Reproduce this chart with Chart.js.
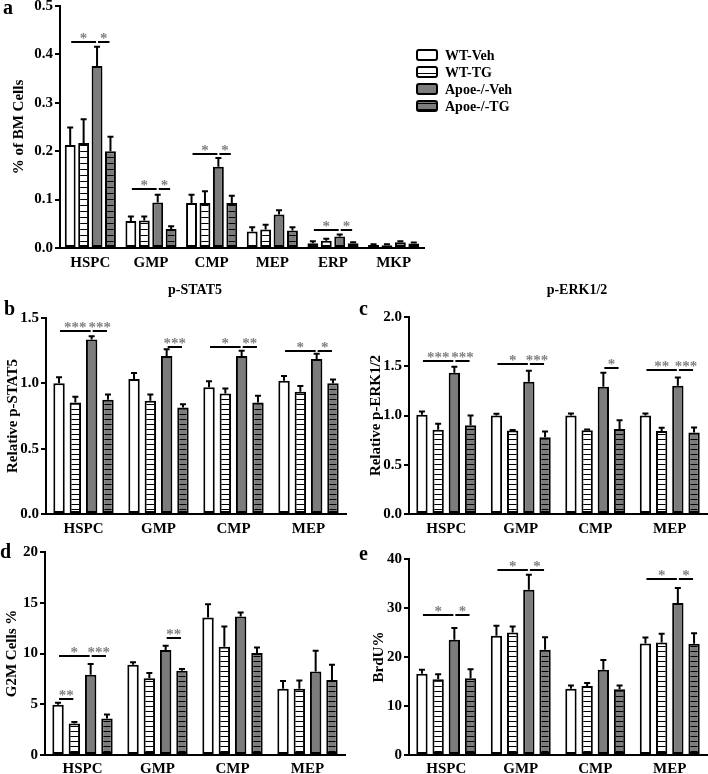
<!DOCTYPE html>
<html>
<head>
<meta charset="utf-8">
<script src="https://cdn.jsdelivr.net/npm/chart.js@4.4.1/dist/chart.umd.min.js"></script>
<style>
  body { margin: 0; width: 708px; height: 774px; position: relative; overflow: hidden; background: #fff;
         font-family: "Liberation Serif", "Times New Roman", serif; }
  .box { position: absolute; }
  .letter { position: absolute; font-weight: bold; font-size: 20px; line-height: 20px; }
  .title { position: absolute; font-weight: bold; font-size: 14px; line-height: 14px; transform: translateX(-50%); white-space: nowrap; }
</style>
</head>
<body>
<div class="box" style="left:0;top:-10px;width:708px;height:285px"><canvas id="chartA"></canvas></div>
<div class="box" style="left:0;top:275px;width:354px;height:262px"><canvas id="chartB"></canvas></div>
<div class="box" style="left:354px;top:275px;width:354px;height:262px"><canvas id="chartC"></canvas></div>
<div class="box" style="left:0;top:537px;width:354px;height:237px"><canvas id="chartD"></canvas></div>
<div class="box" style="left:354px;top:537px;width:354px;height:237px"><canvas id="chartE"></canvas></div>

<div class="letter" style="left:3px;top:-3px">a</div>
<div class="letter" style="left:4px;top:298px">b</div>
<div class="letter" style="left:359px;top:298px">c</div>
<div class="letter" style="left:0px;top:541px">d</div>
<div class="letter" style="left:359px;top:543px">e</div>
<div class="title" style="left:195px;top:283px">p-STAT5</div>
<div class="title" style="left:577px;top:283px">p-ERK1/2</div>

<script>
// groups and cell types
const groups = ["WT-Veh", "WT-TG", "Apoe-/-Veh", "Apoe-/-TG"];
const cellsA = ["HSPC", "GMP", "CMP", "MEP", "ERP", "MKP"];
const cells = ["HSPC", "GMP", "CMP", "MEP"];

// a - % of BM cells (mean, SEM)
const bmWtVeh = [0.213, 0.056, 0.093, 0.034, 0.010, 0.006];
const bmWtTg = [0.217, 0.057, 0.093, 0.038, 0.015, 0.0055];
const bmApoeVeh = [0.376, 0.094, 0.168, 0.069, 0.024, 0.012];
const bmApoeTg = [0.200, 0.039, 0.093, 0.036, 0.010, 0.0095];
const bmWtVehErr = [0.036, 0.009, 0.017, 0.009, 0.004, 0.002];
const bmWtTgErr = [0.049, 0.008, 0.024, 0.010, 0.004, 0.002];
const bmApoeVehErr = [0.040, 0.016, 0.018, 0.009, 0.004, 0.002];
const bmApoeTgErr = [0.030, 0.006, 0.015, 0.007, 0.002, 0.002];
// [cell, from group, to group, level, label]
const bmSig = [[0, 0, 2, 0.426, "*"], [0, 2, 3, 0.426, "*"], [1, 0, 2, 0.122, "*"], [1, 2, 3, 0.122, "*"],
               [2, 0, 2, 0.195, "*"], [2, 2, 3, 0.195, "*"], [4, 0, 2, 0.038, "*"], [4, 2, 3, 0.038, "*"]];

// b - relative p-STAT5
const statWtVeh = [1.00, 1.033, 0.97, 1.02];
const statWtTg = [0.854, 0.867, 0.923, 0.936];
const statApoeVeh = [1.336, 1.21, 1.21, 1.187];
const statApoeTg = [0.874, 0.815, 0.854, 1.00];
const statWtVehErr = [0.046, 0.047, 0.045, 0.036];
const statWtTgErr = [0.043, 0.048, 0.037, 0.044];
const statApoeVehErr = [0.024, 0.05, 0.04, 0.039];
const statApoeTgErr = [0.041, 0.025, 0.051, 0.03];
const statSig = [[0, 0, 2, 1.397, "***"], [0, 2, 3, 1.397, "***"], [1, 2, 3, 1.28, "***"],
                 [2, 0, 2, 1.28, "*"], [2, 2, 3, 1.28, "**"], [3, 0, 2, 1.25, "*"], [3, 2, 3, 1.25, "*"]];

// c - relative p-ERK1/2
const erkWtVeh = [1.007, 1.00, 1.00, 1.00];
const erkWtTg = [0.855, 0.848, 0.85, 0.842];
const erkApoeVeh = [1.434, 1.343, 1.293, 1.303];
const erkApoeTg = [0.902, 0.778, 0.862, 0.828];
const erkWtVehErr = [0.033, 0.017, 0.02, 0.02];
const erkWtTgErr = [0.061, 0.004, 0.008, 0.033];
const erkApoeVehErr = [0.061, 0.112, 0.141, 0.084];
const erkApoeTgErr = [0.098, 0.06, 0.091, 0.051];
const erkSig = [[0, 0, 2, 1.556, "***"], [0, 2, 3, 1.556, "***"], [1, 0, 2, 1.518, "*"], [1, 2, 3, 1.518, "***"],
                [2, 2, 3, 1.478, "*"], [3, 0, 2, 1.46, "**"], [3, 2, 3, 1.46, "***"]];

// d - G2M cells %
const g2mWtVeh = [4.96, 8.9, 13.54, 6.53];
const g2mWtTg = [3.1, 7.57, 10.67, 6.53];
const g2mApoeVeh = [7.9, 10.34, 13.64, 8.22];
const g2mApoeTg = [3.59, 8.29, 10.05, 7.4];
const g2mWtVehErr = [0.19, 0.24, 1.31, 0.75];
const g2mWtTgErr = [0.16, 0.52, 1.99, 0.81];
const g2mApoeVehErr = [1.07, 0.43, 0.39, 2.06];
const g2mApoeTgErr = [0.39, 0.19, 0.55, 1.5];
const g2mSig = [[0, 0, 2, 9.72, "*"], [0, 2, 3, 9.72, "***"], [0, 0, 1, 5.55, "**"], [1, 2, 3, 11.48, "**"]];

// e - BrdU %
const brduWtVeh = [16.56, 24.33, 13.5, 22.76];
const brduWtTg = [15.47, 25.0, 14.1, 22.96];
const brduApoeVeh = [23.5, 33.73, 17.38, 31.0];
const brduApoeTg = [15.67, 21.47, 13.42, 22.7];
const brduWtVehErr = [0.84, 2.07, 0.67, 1.24];
const brduWtTgErr = [1.03, 1.2, 0.6, 1.78];
const brduApoeVehErr = [2.4, 3.07, 2.02, 3.07];
const brduApoeTgErr = [1.83, 2.58, 0.75, 2.17];
const brduSig = [[0, 0, 2, 28.6, "*"], [0, 2, 3, 28.6, "*"], [1, 0, 2, 37.8, "*"], [1, 2, 3, 37.8, "*"],
                 [3, 0, 2, 35.9, "*"], [3, 2, 3, 35.9, "*"]];

const GRAY = "#7c7c7c";
const FONT = "'Liberation Serif', 'Times New Roman', serif";

// horizontal stripe fill for the TG groups
function stripes(bg, period) {
  const c = document.createElement("canvas");
  c.width = 4;
  c.height = period;
  const g = c.getContext("2d");
  g.fillStyle = bg;
  g.fillRect(0, 0, 4, period);
  g.fillStyle = "#000";
  g.fillRect(0, period - 1, 4, 1);
  return g.createPattern(c, "repeat");
}

// upper SEM whiskers
const errorBars = {
  id: "errorBars",
  afterDatasetsDraw(chart) {
    const ctx = chart.ctx;
    const y = chart.scales.y;
    ctx.save();
    ctx.strokeStyle = "#000";
    ctx.lineWidth = 2;
    chart.data.datasets.forEach((ds, i) => {
      chart.getDatasetMeta(i).data.forEach((bar, j) => {
        const top = y.getPixelForValue(ds.data[j] + ds.errors[j]);
        ctx.beginPath();
        ctx.moveTo(bar.x, bar.y);
        ctx.lineTo(bar.x, top);
        ctx.moveTo(bar.x - 3, top);
        ctx.lineTo(bar.x + 3, top);
        ctx.stroke();
      });
    });
    ctx.restore();
  },
};

// significance lines with asterisks
const sigMarks = {
  id: "sigMarks",
  afterDatasetsDraw(chart, args, opts) {
    if (!opts.marks) return;
    const ctx = chart.ctx;
    const y = chart.scales.y;
    ctx.save();
    opts.marks.forEach(([cell, from, to, level, label]) => {
      const x1 = chart.getDatasetMeta(from).data[cell].x + 1;
      const x2 = chart.getDatasetMeta(to).data[cell].x - 1;
      const py = Math.round(y.getPixelForValue(level));
      ctx.strokeStyle = "#000";
      ctx.lineWidth = 2;
      ctx.beginPath();
      ctx.moveTo(x1, py);
      ctx.lineTo(x2, py);
      ctx.stroke();
      ctx.fillStyle = "#808080";
      ctx.font = "bold 15px " + FONT;
      ctx.textAlign = "center";
      ctx.textBaseline = "alphabetic";
      ctx.fillText(label, (x1 + x2) / 2, py + 1);
    });
    ctx.restore();
  },
};

// legend drawn to the right of panel a
const sideLegend = {
  id: "sideLegend",
  afterDraw(chart, args, opts) {
    if (!opts.display) return;
    const ctx = chart.ctx;
    ctx.save();
    chart.data.datasets.forEach((ds, i) => {
      const cy = opts.y + i * opts.row;
      ctx.beginPath();
      ctx.roundRect(opts.x, cy - 5, 20, 10, 2);
      ctx.fillStyle = ds.backgroundColor;
      ctx.fill();
      ctx.lineWidth = 2;
      ctx.strokeStyle = "#000";
      ctx.stroke();
      ctx.fillStyle = "#000";
      ctx.font = "bold 14px " + FONT;
      ctx.textAlign = "left";
      ctx.textBaseline = "middle";
      ctx.fillText(ds.label, opts.x + 28, cy + 1);
    });
    ctx.restore();
  },
};

function makeChart(id, labels, values, errors, cfg) {
  const ctx = document.getElementById(id).getContext("2d");
  const fills = ["#fff", stripes("#fff", cfg.period), GRAY, stripes(GRAY, cfg.period)];
  return new Chart(ctx, {
    type: "bar",
    data: {
      labels: labels,
      datasets: groups.map((g, i) => ({
        label: g,
        data: values[i],
        errors: errors[i],
        backgroundColor: fills[i],
        borderColor: "#000",
        borderWidth: 2,
        borderSkipped: false,
        categoryPercentage: cfg.catPct,
        barPercentage: cfg.barPct,
      })),
    },
    options: {
      responsive: true,
      maintainAspectRatio: false,
      animation: false,
      layout: { padding: cfg.padding },
      plugins: {
        legend: { display: false },
        tooltip: { enabled: false },
        sigMarks: { marks: cfg.sig },
        sideLegend: cfg.legend || { display: false },
      },
      scales: {
        x: {
          grid: { display: false, drawTicks: false },
          border: { display: true, width: 2, color: "#000" },
          ticks: { color: "#000", font: { family: FONT, size: 15, weight: "bold" }, padding: cfg.xPad, maxRotation: 0, autoSkip: false },
          afterFit: (s) => { s.height = cfg.xHeight; },
        },
        y: {
          min: 0,
          max: cfg.max,
          grid: { drawOnChartArea: false, drawTicks: true, tickLength: 5, lineWidth: 2, color: "#000" },
          border: { display: true, width: 2, color: "#000" },
          ticks: {
            stepSize: cfg.step,
            color: "#000",
            padding: 2,
            font: { family: FONT, size: 15, weight: "bold" },
            callback: (v) => v.toFixed(cfg.digits),
          },
          title: { display: true, text: cfg.yTitle, color: "#000", padding: { top: 0, bottom: 0 }, font: { family: FONT, size: 15, weight: "bold" } },
          afterFit: (s) => { s.width = cfg.yWidth; },
        },
      },
    },
    plugins: [errorBars, sigMarks, sideLegend],
  });
}

makeChart("chartA", cellsA,
  [bmWtVeh, bmWtTg, bmApoeVeh, bmApoeTg], [bmWtVehErr, bmWtTgErr, bmApoeVehErr, bmApoeTgErr],
  { max: 0.5, step: 0.1, digits: 1, yTitle: "% of BM Cells", sig: bmSig, period: 6, catPct: 0.885, barPct: 0.81,
    padding: { top: 16, left: 10, right: 284, bottom: 0 }, yWidth: 50, xHeight: 27, xPad: 6,
    legend: { display: true, x: 417, y: 65, row: 17 } });

makeChart("chartB", cells,
  [statWtVeh, statWtTg, statApoeVeh, statApoeTg], [statWtVehErr, statWtTgErr, statApoeVehErr, statApoeTgErr],
  { max: 1.5, step: 0.5, digits: 1, yTitle: "Relative p-STAT5", sig: statSig, period: 5, catPct: 0.87, barPct: 0.7,
    padding: { top: 43, left: 4, right: 8, bottom: 0 }, yWidth: 42, xHeight: 23, xPad: 6 });

makeChart("chartC", cells,
  [erkWtVeh, erkWtTg, erkApoeVeh, erkApoeTg], [erkWtVehErr, erkWtTgErr, erkApoeVehErr, erkApoeTgErr],
  { max: 2.0, step: 0.5, digits: 1, yTitle: "Relative p-ERK1/2", sig: erkSig, period: 5, catPct: 0.87, barPct: 0.7,
    padding: { top: 42, left: 13, right: 1, bottom: 0 }, yWidth: 42, xHeight: 23, xPad: 6 });

makeChart("chartD", cells,
  [g2mWtVeh, g2mWtTg, g2mApoeVeh, g2mApoeTg], [g2mWtVehErr, g2mWtTgErr, g2mApoeVehErr, g2mApoeTgErr],
  { max: 20, step: 5, digits: 0, yTitle: "G2M Cells %", sig: g2mSig, period: 5, catPct: 0.87, barPct: 0.7,
    padding: { top: 15, left: 3, right: 9, bottom: 0 }, yWidth: 42, xHeight: 19, xPad: 5 });

makeChart("chartE", cells,
  [brduWtVeh, brduWtTg, brduApoeVeh, brduApoeTg], [brduWtVehErr, brduWtTgErr, brduApoeVehErr, brduApoeTgErr],
  { max: 40, step: 10, digits: 0, yTitle: "BrdU%", sig: brduSig, period: 5, catPct: 0.87, barPct: 0.7,
    padding: { top: 22, left: 16, right: 1, bottom: 0 }, yWidth: 39, xHeight: 19, xPad: 5 });
</script>
</body>
</html>
